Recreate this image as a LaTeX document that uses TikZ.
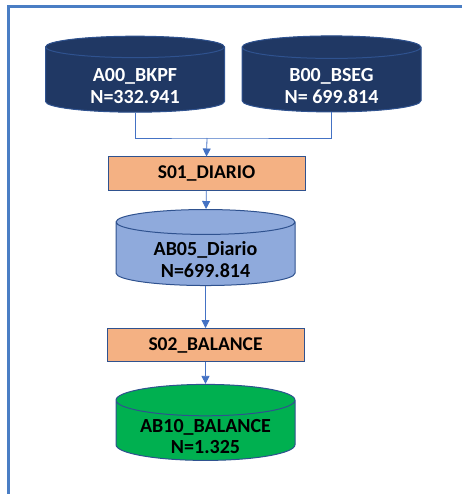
\documentclass[tikz,border=0pt]{standalone}
\usepackage{fontspec}
\newfontfamily\calib{Carlito}
\usetikzlibrary{positioning,arrows.meta,shapes.geometric}

\definecolor{frameblue}{HTML}{4A7EC4}
\definecolor{lineblue}{HTML}{4472C4}
\definecolor{rimblue}{HTML}{2F528F}
\definecolor{navy}{HTML}{203864}
\definecolor{paleblue}{HTML}{8FAADC}
\definecolor{peach}{HTML}{F4B183}
\definecolor{tablegreen}{HTML}{00B050}

% two lines of a table, set a little below the lid
\newcommand{\tabletext}[2]{\raisebox{0pt}[3.6pt][0pt]{%
  \begin{tabular}[t]{@{}c@{}}#1\\#2\end{tabular}}}

\tikzset{
  table/.style={cylinder, shape border rotate=90, aspect=0.24, draw=rimblue,
    line width=1pt, minimum width=179pt, minimum height=76pt, inner sep=0pt,
    font=\calib\bfseries\fontsize{20}{21.6}\selectfont},
  srctable/.style={table, fill=navy, cylinder uses custom fill,
    cylinder body fill=navy, cylinder end fill=navy, text=white},
  stepbox/.style={rectangle, draw=rimblue, line width=1pt, fill=peach,
    minimum width=197pt, minimum height=33pt, inner sep=0pt,
    font=\calib\bfseries\fontsize{19.5}{22}\selectfont},
  flow/.style={draw=lineblue, line width=0.8pt},
  flowarrow/.style={flow, -{Triangle[width=8pt,length=8pt]}},
}

\begin{document}
\begin{tikzpicture}[x=1pt, y=-1pt]
%
    \useasboundingbox (0,0) rectangle (462,494);
    \draw[frameblue, line width=2.5pt] (8.5,494) -- (8.5,6.5) -- (462,6.5);
%
    \node[srctable] (a00) at (135, 79.8) {\tabletext{A00\_BKPF}{N=332.941}};
    \node[srctable] (b00) at (331.5, 79.8) {\tabletext{B00\_BSEG}{N= 699.814}};
    \node[stepbox] (s01) at (206.5, 173.5) {S01\_DIARIO};
    \node[table, fill=paleblue] (ab05) at (205.5, 254) {\tabletext{AB05\_Diario}{N=699.814}};
    \node[stepbox] (s02) at (205.5, 345) {S02\_BALANCE};
    \node[table, fill=tablegreen] (ab10) at (205.5, 430.5) {\tabletext{AB10\_BALANCE}{N=1.325}};
%
    \coordinate (join) at (207, 138);
    \draw[flow] (a00.south) |- (join) -| (b00.south);
    \draw[flowarrow] (join) -- (s01.north);
    \draw[flowarrow] (s01) -- (ab05);
    \draw[flowarrow] (ab05) -- (s02);
    \draw[flowarrow] (s02) -- (ab10);
  \end{tikzpicture}
\end{document}
